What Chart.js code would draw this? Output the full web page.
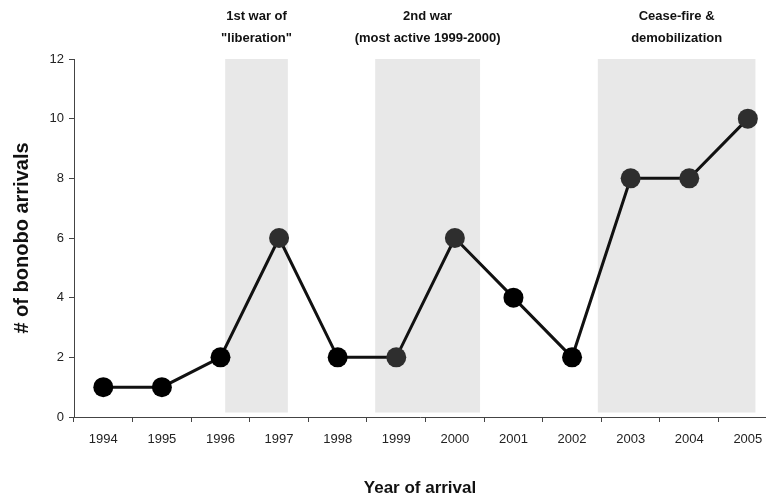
<!DOCTYPE html>
<html>
<head>
<meta charset="utf-8">
<script src="https://cdn.jsdelivr.net/npm/chart.js@4.4.0/dist/chart.umd.min.js"></script>
<style>
  html, body { margin: 0; padding: 0; background: #fff; overflow: hidden; }
  #wrap { width: 766px; height: 501px; position: relative; }
</style>
</head>
<body>
<div id="wrap"><canvas id="chart"></canvas></div>
<script>
// Bonobo arrivals per year, with shaded conflict periods
const years = [1994, 1995, 1996, 1997, 1998, 1999, 2000, 2001, 2002, 2003, 2004, 2005];
const arrivals = [1, 1, 2, 6, 2, 2, 6, 4, 2, 8, 8, 10];
const yTicks = [0, 2, 4, 6, 8, 10, 12];

// shaded periods in year units, with their two-line captions
const bandStarts = [1996.08, 1998.64, 2002.44];
const bandEnds = [1997.15, 2000.43, 2005.13];
const bandLabels = [
  ["1st war of", "\"liberation\""],
  ["2nd war", "(most active 1999-2000)"],
  ["Cease-fire &", "demobilization"],
];

const FONT = "'Liberation Sans', Arial, sans-serif";
const AXIS = "#444";

const bandsPlugin = {
  id: "bands",
  beforeDatasetsDraw(chart) {
    const { ctx, scales: { x, y } } = chart;
    ctx.save();
    ctx.fillStyle = "#e8e8e8";
    for (let i = 0; i < bandStarts.length; i++) {
      const x0 = x.getPixelForValue(bandStarts[i]);
      const x1 = x.getPixelForValue(bandEnds[i]);
      const y0 = y.getPixelForValue(12);
      const y1 = y.getPixelForValue(0.15);
      ctx.fillRect(x0, y0, x1 - x0, y1 - y0);
    }
    ctx.restore();
  },
  afterDraw(chart) {
    const { ctx, scales: { x } } = chart;
    ctx.save();
    ctx.fillStyle = "#111";
    ctx.font = "bold 13px " + FONT;
    ctx.textAlign = "center";
    ctx.textBaseline = "middle";
    for (let i = 0; i < bandLabels.length; i++) {
      const cx = (x.getPixelForValue(bandStarts[i]) + x.getPixelForValue(bandEnds[i])) / 2;
      ctx.fillText(bandLabels[i][0], cx, 16);
      ctx.fillText(bandLabels[i][1], cx, 38);
    }
    ctx.restore();
  },
};

const inBand = (v) => bandStarts.some((s, i) => v >= s && v <= bandEnds[i]);

new Chart(document.getElementById("chart"), {
  type: "line",
  data: {
    datasets: [
      {
        data: years.map((yr, i) => ({ x: yr, y: arrivals[i] })),
        borderColor: "#111",
        borderWidth: 3,
        pointRadius: 10,
        pointHoverRadius: 10,
        pointBorderWidth: 0,
        pointBackgroundColor: (c) => (inBand(years[c.dataIndex]) ? "#2e2e2e" : "#000"),
        tension: 0,
        clip: false,
      },
    ],
  },
  options: {
    responsive: true,
    maintainAspectRatio: false,
    animation: false,
    layout: { autoPadding: false, padding: { top: 59, right: 0, bottom: 2, left: 0 } },
    plugins: { legend: { display: false }, tooltip: { enabled: false } },
    scales: {
      x: {
        type: "linear",
        min: 1993.5,
        max: 2005.31,
        afterBuildTicks: (s) => { s.ticks = years.map((v) => ({ value: v })); },
        afterFit: (s) => { s.height = 82; s.paddingLeft = 0; s.paddingRight = 0; },
        grid: { offset: true, drawOnChartArea: false, tickLength: 5, color: AXIS },
        border: { color: AXIS, width: 1 },
        ticks: {
          color: "#222",
          font: { family: FONT, size: 13 },
          padding: 10,
          maxRotation: 0,
          callback: (v) => String(v),
        },
        title: {
          display: true,
          text: "Year of arrival",
          color: "#111",
          font: { family: FONT, size: 17, weight: "bold" },
          padding: { top: 20, bottom: 0 },
        },
      },
      y: {
        min: 0,
        max: 12,
        afterBuildTicks: (s) => { s.ticks = yTicks.map((v) => ({ value: v })); },
        afterFit: (s) => { s.width = 74; },
        grid: { drawOnChartArea: false, tickLength: 5, color: AXIS },
        border: { color: AXIS, width: 1 },
        ticks: { color: "#222", font: { family: FONT, size: 13 }, padding: 5 },
        title: {
          display: true,
          text: "# of bonobo arrivals",
          color: "#111",
          font: { family: FONT, size: 20, weight: "bold" },
          padding: { top: 10, bottom: 0 },
        },
      },
    },
  },
  plugins: [bandsPlugin],
});
</script>
</body>
</html>
